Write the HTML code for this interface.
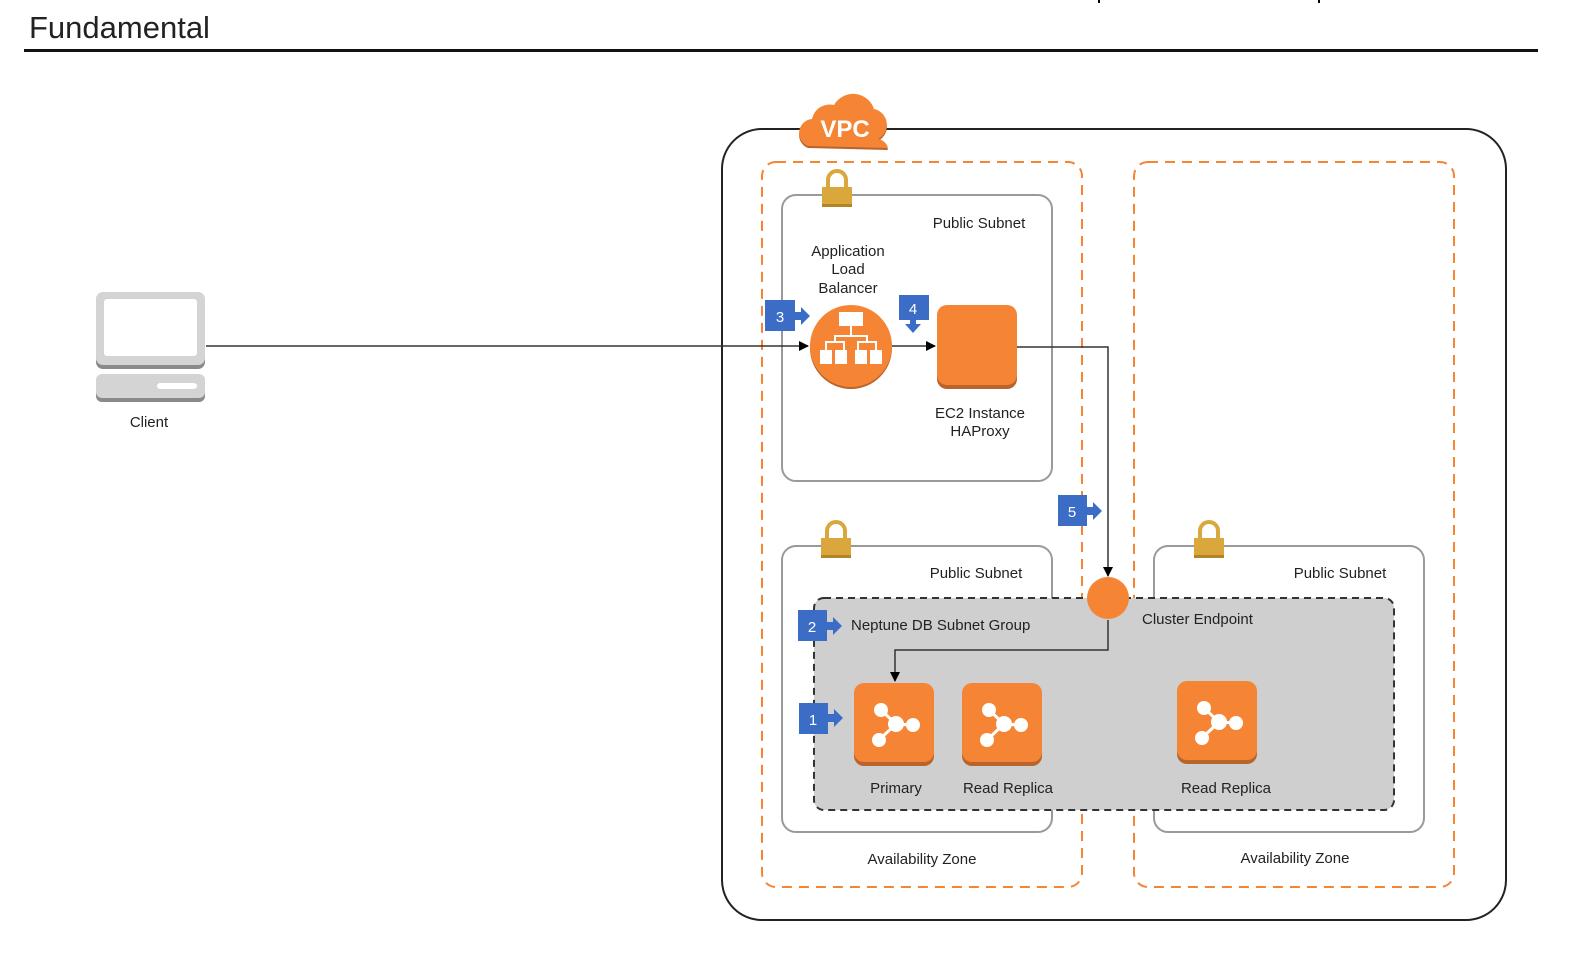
<!DOCTYPE html>
<html><head><meta charset="utf-8"><style>
html,body{margin:0;padding:0;background:#fff;}
svg{display:block;}
text{font-family:"Liberation Sans",sans-serif;fill:#222;}
</style></head><body>
<svg width="1586" height="972" viewBox="0 0 1586 972" xmlns="http://www.w3.org/2000/svg">
<defs>
<marker id="ah" markerWidth="10" markerHeight="10" refX="9" refY="5" orient="auto" markerUnits="userSpaceOnUse"><path d="M0,0 L10,5 L0,10 z" fill="#000"/></marker>
<g id="lock"><path d="M-9,-4 v-7 a9,9 0 0 1 18,0 v7" fill="none" stroke="#d9a73b" stroke-width="4"/><rect x="-15" y="-4" width="30" height="20" fill="#d9a73b"/><rect x="-15" y="13" width="30" height="3" fill="#b38426"/></g>
<g id="db"><rect x="0" y="3" width="80" height="80" rx="10" fill="#b8642a"/><rect x="0" y="0" width="80" height="79" rx="10" fill="#f58534"/>
<g stroke="#fff" stroke-width="3"><line x1="27" y1="27" x2="42" y2="41"/><line x1="42" y1="41" x2="57" y2="42"/><line x1="42" y1="41" x2="26" y2="56"/></g>
<g fill="#fff"><circle cx="27" cy="27" r="7"/><circle cx="42" cy="41" r="8"/><circle cx="59" cy="42" r="7"/><circle cx="25" cy="57" r="7"/></g></g>
</defs>
<text x="29" y="38" font-size="31">Fundamental</text>
<rect x="1098" y="0" width="2" height="3" fill="#000"/><rect x="1318" y="0" width="2" height="3" fill="#000"/>
<rect x="24" y="49" width="1514" height="3" fill="#111"/>

<rect x="722" y="129" width="784" height="791" rx="40" fill="none" stroke="#222" stroke-width="2"/>
<rect x="762" y="162" width="320" height="725" rx="14" fill="none" stroke="#f58534" stroke-width="2" stroke-dasharray="10,7"/>
<rect x="1134" y="162" width="320" height="725" rx="14" fill="none" stroke="#f58534" stroke-width="2" stroke-dasharray="10,7"/>

<!-- VPC cloud -->
<g>
<path d="M808,146 a14,14 0 0 1 4,-27 a18,18 0 0 1 22,-14 a22,22 0 0 1 40,4 a16,16 0 0 1 4,30 a12,12 0 0 1 10,9 z" fill="#b8642a" transform="translate(0,2)"/>
<path d="M808,146 a14,14 0 0 1 4,-27 a18,18 0 0 1 22,-14 a22,22 0 0 1 40,4 a16,16 0 0 1 4,30 a12,12 0 0 1 10,9 z" fill="#f58534"/>
<text x="845" y="137" font-size="24" text-anchor="middle" style="fill:#fff" font-weight="bold" transform="scale(1,1)">VPC</text>
</g>

<rect x="782" y="195" width="270" height="286" rx="14" fill="#fff" stroke="#9a9a9a" stroke-width="2"/>
<rect x="782" y="546" width="270" height="286" rx="14" fill="#fff" stroke="#9a9a9a" stroke-width="2"/>
<rect x="1154" y="546" width="270" height="286" rx="14" fill="#fff" stroke="#9a9a9a" stroke-width="2"/>
<use href="#lock" x="837" y="191"/>
<use href="#lock" x="836" y="542"/>
<use href="#lock" x="1209" y="542"/>
<text x="979" y="228" font-size="15" text-anchor="middle">Public Subnet</text>
<text x="976" y="578" font-size="15" text-anchor="middle">Public Subnet</text>
<text x="1340" y="578" font-size="15" text-anchor="middle">Public Subnet</text>

<rect x="814" y="598" width="580" height="212" rx="10" fill="#d0cfcf" stroke="#333" stroke-width="2" stroke-dasharray="7,5"/>

<!-- connectors -->
<line x1="206" y1="346" x2="808" y2="346" stroke="#333" stroke-width="1.5" marker-end="url(#ah)"/>
<line x1="892" y1="346" x2="935" y2="346" stroke="#333" stroke-width="1.5" marker-end="url(#ah)"/>
<polyline points="1017,347 1108,347 1108,576" fill="none" stroke="#333" stroke-width="1.5" marker-end="url(#ah)"/>
<polyline points="1108,620 1108,650 895,650 895,681" fill="none" stroke="#333" stroke-width="1.5" marker-end="url(#ah)"/>

<circle cx="1108" cy="598" r="21" fill="#f58534"/>
<text x="1142" y="624" font-size="15">Cluster Endpoint</text>
<text x="851" y="630" font-size="15">Neptune DB Subnet Group</text>

<!-- ALB -->
<circle cx="851" cy="348" r="41" fill="#b8642a"/>
<circle cx="851" cy="346" r="41" fill="#f58534"/>
<g fill="#fff"><rect x="839" y="312" width="24" height="14"/><rect x="820" y="350" width="12" height="14"/><rect x="835" y="350" width="12" height="14"/><rect x="855" y="350" width="12" height="14"/><rect x="870" y="350" width="12" height="14"/></g>
<g stroke="#fff" stroke-width="2" fill="none"><path d="M851,326 v10 M826,350 v-8 h18 v8 M858,350 v-8 h18 v8 M835,342 v-6 h32 v6"/></g>
<text x="848" y="256" font-size="15" text-anchor="middle">Application</text>
<text x="848" y="274" font-size="15" text-anchor="middle">Load</text>
<text x="848" y="293" font-size="15" text-anchor="middle">Balancer</text>

<!-- EC2 -->
<rect x="937" y="308" width="80" height="81" rx="10" fill="#b8642a"/>
<rect x="937" y="305" width="80" height="80" rx="10" fill="#f58534"/>
<text x="980" y="418" font-size="15" text-anchor="middle">EC2 Instance</text>
<text x="980" y="436" font-size="15" text-anchor="middle">HAProxy</text>

<use href="#db" x="854" y="683"/>
<use href="#db" x="962" y="683"/>
<use href="#db" x="1177" y="681"/>
<text x="896" y="793" font-size="15" text-anchor="middle">Primary</text>
<text x="1008" y="793" font-size="15" text-anchor="middle">Read Replica</text>
<text x="1226" y="793" font-size="15" text-anchor="middle">Read Replica</text>
<text x="922" y="864" font-size="15" text-anchor="middle">Availability Zone</text>
<text x="1295" y="863" font-size="15" text-anchor="middle">Availability Zone</text>

<!-- badges -->
<g font-size="15">
<rect x="765" y="300" width="30" height="31" fill="#3b6dc7"/><text x="780" y="322" text-anchor="middle" style="fill:#fff">3</text>
<path d="M795,312 h6 v-5 l9,9 l-9,9 v-5 h-6z" fill="#3b6dc7"/>
<rect x="899" y="295" width="30" height="25" fill="#3b6dc7"/><text x="913" y="314" text-anchor="middle" style="fill:#fff">4</text>
<path d="M910,320 v4 h-5 l8,9 l8,-9 h-5 v-4z" fill="#3b6dc7"/>
<rect x="1058" y="495" width="29" height="31" fill="#3b6dc7"/><text x="1072" y="517" text-anchor="middle" style="fill:#fff">5</text>
<path d="M1087,507 h6 v-5 l9,9 l-9,9 v-5 h-6z" fill="#3b6dc7"/>
<rect x="798" y="610" width="29" height="31" fill="#3b6dc7"/><text x="812" y="632" text-anchor="middle" style="fill:#fff">2</text>
<path d="M827,622 h6 v-5 l9,9 l-9,9 v-5 h-6z" fill="#3b6dc7"/>
<rect x="799" y="703" width="29" height="31" fill="#3b6dc7"/><text x="813" y="725" text-anchor="middle" style="fill:#fff">1</text>
<path d="M828,714 h6 v-5 l9,9 l-9,9 v-5 h-6z" fill="#3b6dc7"/>
</g>

<!-- client -->
<rect x="96" y="296" width="109" height="73" rx="7" fill="#8a8a8a"/>
<rect x="96" y="292" width="109" height="73" rx="7" fill="#d4d4d4"/>
<rect x="104" y="299" width="93" height="57" rx="3" fill="#fff"/>
<rect x="96" y="378" width="109" height="24" rx="6" fill="#8a8a8a"/>
<rect x="96" y="374" width="109" height="24" rx="6" fill="#d4d4d4"/>
<rect x="157" y="383" width="40" height="6" rx="3" fill="#fff"/>
<text x="149" y="427" font-size="15" text-anchor="middle">Client</text>
</svg>
</body></html>
